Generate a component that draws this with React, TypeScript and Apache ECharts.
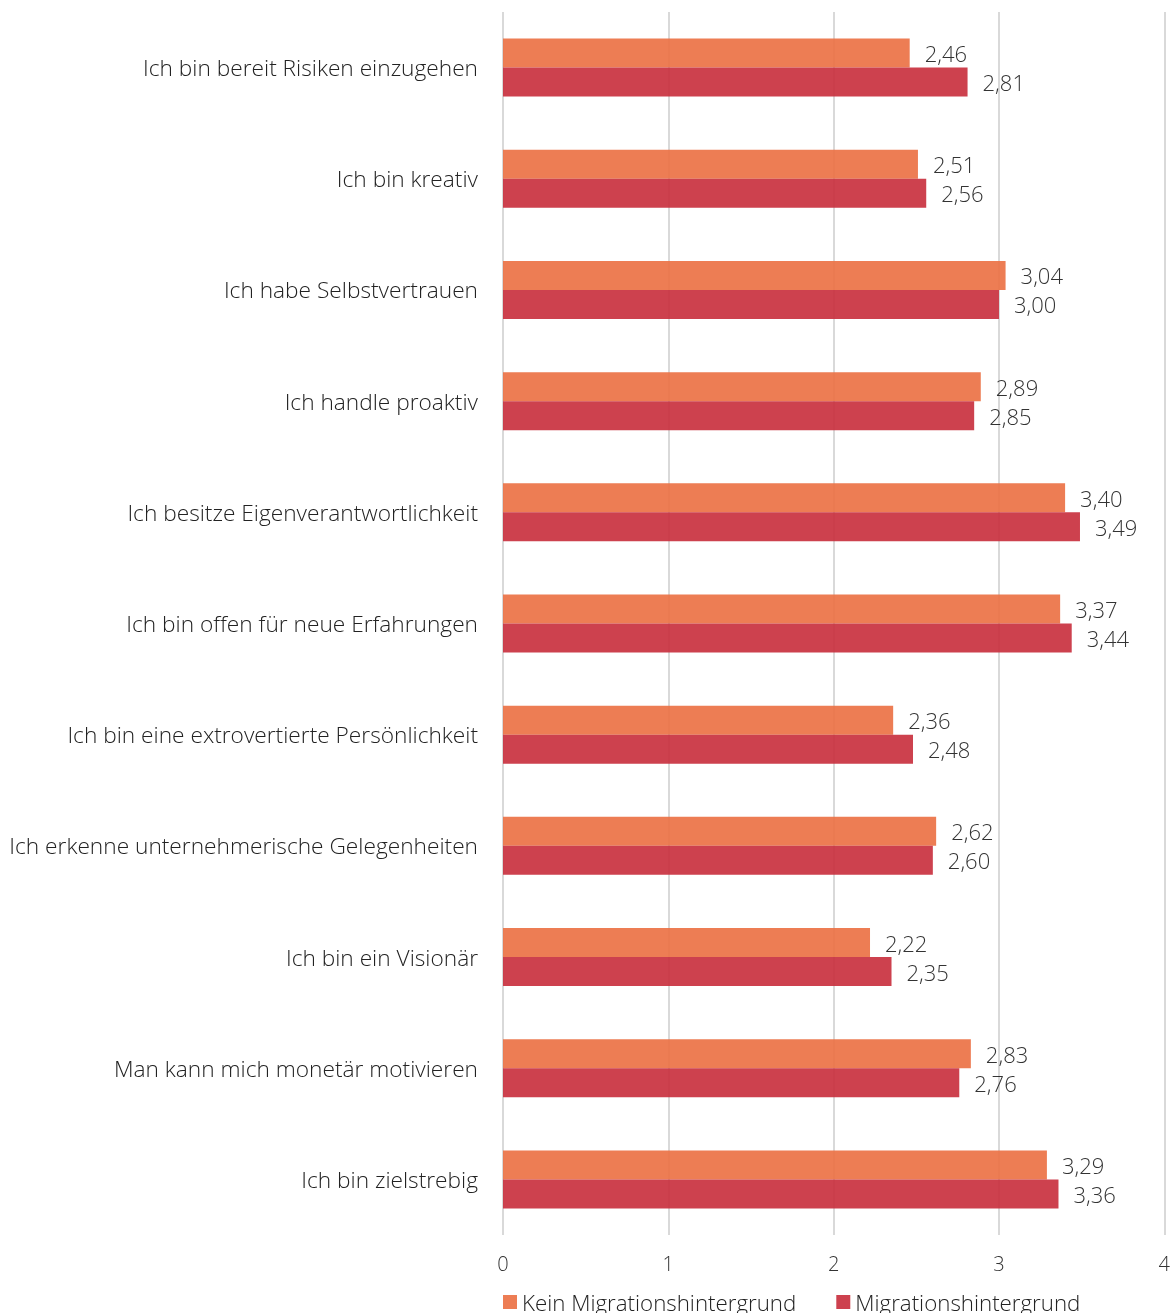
import React, { useEffect, useRef } from "react";
import * as echarts from "echarts";

const categories = [
  "Ich bin bereit Risiken einzugehen",
  "Ich bin kreativ",
  "Ich habe Selbstvertrauen",
  "Ich handle proaktiv",
  "Ich besitze Eigenverantwortlichkeit",
  "Ich bin offen für neue Erfahrungen",
  "Ich bin eine extrovertierte Persönlichkeit",
  "Ich erkenne unternehmerische Gelegenheiten",
  "Ich bin ein Visionär",
  "Man kann mich monetär motivieren",
  "Ich bin zielstrebig",
];
const seriesNames = ["Kein Migrationshintergrund", "Migrationshintergrund"];
const keinMigration = [2.46, 2.51, 3.04, 2.89, 3.4, 3.37, 2.36, 2.62, 2.22, 2.83, 3.29];
const migration = [2.81, 2.56, 3.0, 2.85, 3.49, 3.44, 2.48, 2.6, 2.35, 2.76, 3.36];
const xTicks = [0, 1, 2, 3, 4];

const FONT = "'Open Sans', 'Noto Sans', sans-serif";

export default function App() {
  const ref = useRef<HTMLDivElement>(null);
  useEffect(() => {
    if (!ref.current) return;
    const chart = echarts.init(ref.current, undefined, { renderer: "svg" });
    const fmt = (p: any) => Number(p.value).toFixed(2).replace(".", ",");
    const labelStyle = {
      show: true,
      position: "right",
      distance: 15,
      formatter: fmt,
      fontSize: 22,
      fontWeight: 300,
      color: "#222",
      fontFamily: FONT,
    };
    chart.setOption({
      animation: false,
      textStyle: { fontFamily: FONT },
      grid: { left: 503, right: 6, top: 12, bottom: 78, containLabel: false },
      legend: {
        data: seriesNames,
        left: 498,
        top: 1286,
        itemWidth: 14,
        itemHeight: 14,
        itemGap: 40,
        icon: "rect",
        textStyle: { fontSize: 22.3, fontWeight: 300, color: "#222", fontFamily: FONT },
      },
      xAxis: {
        type: "value",
        min: xTicks[0],
        max: xTicks[xTicks.length - 1],
        interval: 1,
        axisLine: { show: false },
        axisTick: { show: false },
        axisLabel: { fontSize: 20, fontWeight: 300, color: "#333", margin: 18, fontFamily: FONT },
        splitLine: { show: true, lineStyle: { color: "#d9d9d9", width: 2 } },
      },
      yAxis: {
        type: "category",
        data: categories,
        inverse: true,
        axisLine: { show: false },
        axisTick: { show: false },
        axisLabel: { fontSize: 22.7, fontWeight: 300, color: "#222", margin: 25, fontFamily: FONT },
      },
      series: [
        {
          name: seriesNames[0],
          type: "bar",
          data: keinMigration,
          barWidth: 29,
          barGap: "0%",
          itemStyle: { color: "#EC7245", opacity: 0.92 },
          label: labelStyle,
        },
        {
          name: seriesNames[1],
          type: "bar",
          data: migration,
          barWidth: 29,
          barGap: "0%",
          itemStyle: { color: "#C9313F", opacity: 0.92 },
          label: labelStyle,
        },
      ],
    });
    return () => chart.dispose();
  }, []);
  return (
    <div
      ref={ref}
      style={{ position: "fixed", left: 0, top: 0, width: 1173, height: 1313 }}
    />
  );
}
